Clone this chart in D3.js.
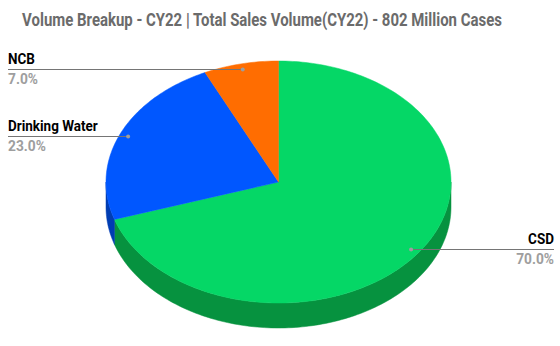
<!DOCTYPE html>
<html>
<head>
<meta charset="utf-8">
<script src="https://cdn.jsdelivr.net/npm/d3@7"></script>
<style>
  body { margin: 0; background: #fff; }
  svg { display: block; font-family: Roboto, "Noto Sans", sans-serif; }
</style>
</head>
<body>
<svg id="chart" width="560" height="346"></svg>
<script>
// data
const categories = ['CSD', 'Drinking Water', 'NCB'];
const values = [70.0, 23.0, 7.0];
const topColors = ['#05d766', '#0057ff', '#ff6d01'];
const sideColors = ['#06923f', '#003db3', '#b34c00'];
const title = 'Volume Breakup - CY22 | Total Sales Volume(CY22) - 802 Million Cases';

const svg = d3.select('#chart');
const cx = 278.5, cy = 182, rx = 172.5, ry = 121, depth = 25;

// angle 0 = 12 o'clock, clockwise
const pie = d3.pie().sort(null).value(d => d)(values);

function pt(a, r, dy) {
    return [cx + rx * r * Math.sin(a), cy - ry * r * Math.cos(a) + (dy || 0)];
}
function arcPts(a0, a1, dy) {
    const n = Math.max(2, Math.ceil(Math.abs(a1 - a0) / 0.02));
    return d3.range(n + 1).map(i => pt(a0 + (a1 - a0) * i / n, 1, dy));
}

// the original font is a bit narrower, squeeze text horizontally around x
function squeeze(g, x, y, k) {
    g.attr('transform', `translate(${x},${y}) scale(${k},1)`);
}

// title
const tg = svg.append('g');
const tt = tg.append('text')
    .attr('text-anchor', 'middle')
    .attr('font-size', 17.5).attr('font-weight', 'bold')
    .attr('fill', '#6b6b6b')
    .text(title);
const tw = tt.node().getComputedTextLength();
squeeze(tg, 262, 25.5, Math.min(1, 480 / tw));

// side walls (front half only: PI/2 .. 3PI/2)
const line = d3.line();
const sides = svg.append('g');
pie.forEach((d, i) => {
    const a0 = Math.max(d.startAngle, Math.PI / 2);
    const a1 = Math.min(d.endAngle, Math.PI * 3 / 2);
    if (a1 <= a0) return;
    const pts = arcPts(a0, a1, 0).concat(arcPts(a1, a0, depth));
    sides.append('path')
        .attr('d', line(pts) + 'Z')
        .attr('fill', sideColors[i])
        .attr('stroke', sideColors[i]).attr('stroke-width', 0.5);
});

// top face
const tops = svg.append('g');
pie.forEach((d, i) => {
    const pts = [[cx, cy]].concat(arcPts(d.startAngle, d.endAngle, 0));
    tops.append('path')
        .attr('d', line(pts) + 'Z')
        .attr('fill', topColors[i])
        .attr('stroke', topColors[i]).attr('stroke-width', 0.5);
});

// labels
const labelPos = [
    { side: 'right', y: 249.5 },
    { side: 'left', y: 136.5 },
    { side: 'left', y: 69.5 }
];
const labels = svg.append('g');
pie.forEach((d, i) => {
    const mid = (d.startAngle + d.endAngle) / 2;
    const p = pt(mid, 0.95, 0);
    const lp = labelPos[i];
    const x = lp.side === 'left' ? 8 : 554;
    const anchor = lp.side === 'left' ? 'start' : 'end';
    labels.append('line')
        .attr('x1', x).attr('x2', p[0])
        .attr('y1', lp.y).attr('y2', lp.y)
        .attr('stroke', '#757575').attr('stroke-width', 1);
    labels.append('circle')
        .attr('cx', p[0]).attr('cy', lp.y).attr('r', 2)
        .attr('fill', '#9e9e9e');
    const g1 = labels.append('g');
    g1.append('text')
        .attr('text-anchor', anchor)
        .attr('font-size', 14.5).attr('font-weight', 'bold')
        .attr('fill', '#000')
        .text(categories[i]);
    squeeze(g1, x, lp.y - 5.5, 0.93);
    const g2 = labels.append('g');
    g2.append('text')
        .attr('text-anchor', anchor)
        .attr('font-size', 14.5).attr('font-weight', 'bold')
        .attr('fill', '#9e9e9e')
        .text(d3.format('.1f')(values[i]) + '%');
    squeeze(g2, x, lp.y + 14.5, 0.95);
});
</script>
</body>
</html>
